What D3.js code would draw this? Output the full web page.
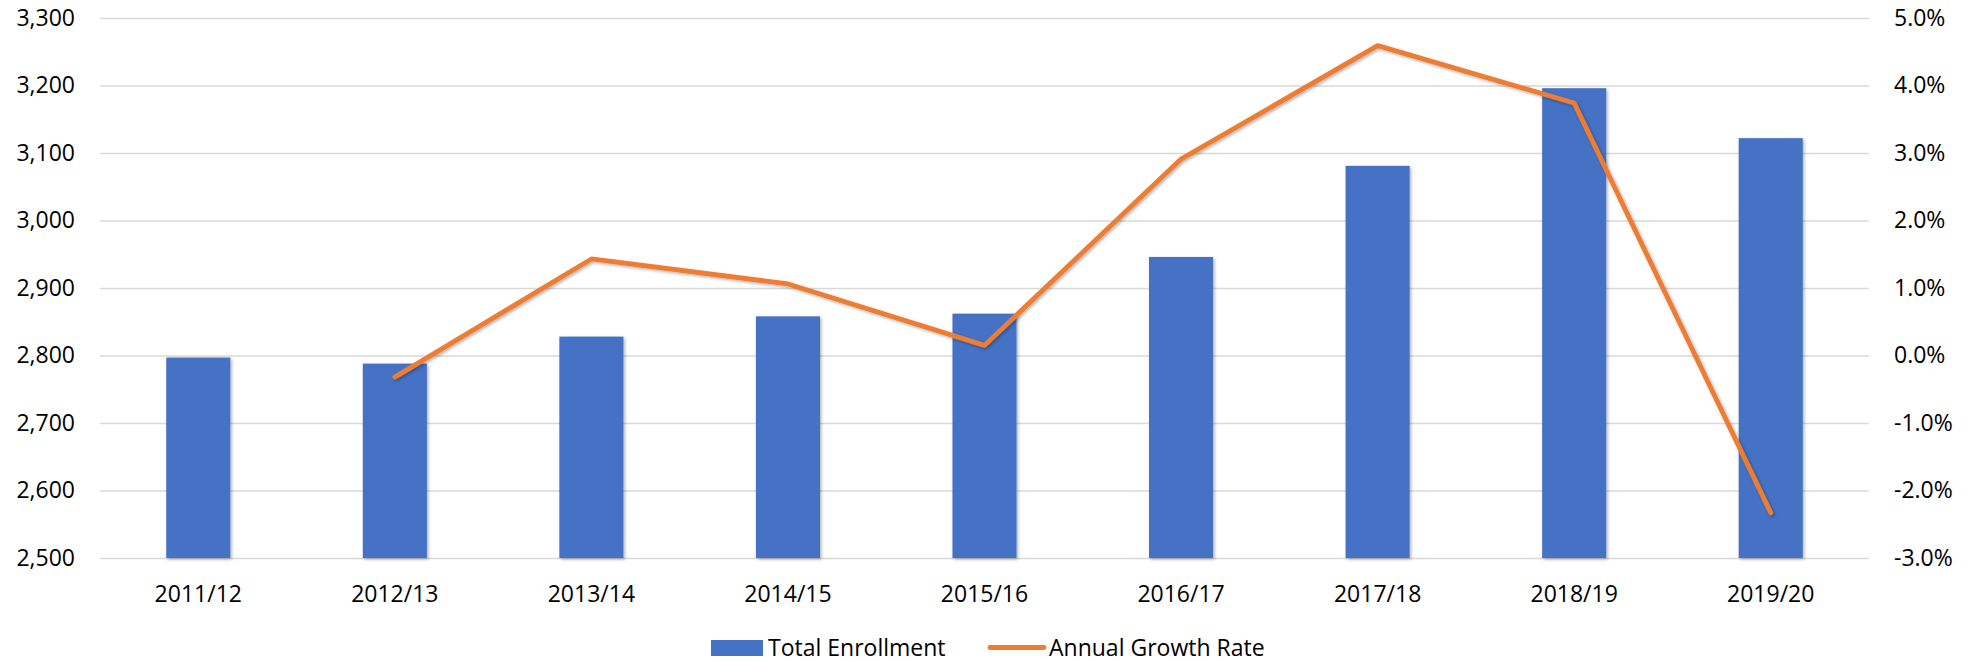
<!DOCTYPE html>
<html>
<head>
<meta charset="utf-8">
<script src="https://cdn.jsdelivr.net/npm/d3@7"></script>
<style>
  html, body { margin: 0; padding: 0; background: #fff; }
  svg { display: block; }
  text { font-family: "Open Sans", "Noto Sans", sans-serif; font-size: 23px; fill: #000; }
</style>
</head>
<body>
<svg id="chart" width="1978" height="662"></svg>
<script>
const categories = ["2011/12","2012/13","2013/14","2014/15","2015/16","2016/17","2017/18","2018/19","2019/20"];
const enrollment = [2797, 2788, 2828, 2858, 2862, 2946, 3081, 3196, 3122];
const growthRate = [null, -0.32, 1.43, 1.06, 0.15, 2.91, 4.59, 3.74, -2.33];
const leftTicks = [2500, 2600, 2700, 2800, 2900, 3000, 3100, 3200, 3300];
const rightTicks = [-3, -2, -1, 0, 1, 2, 3, 4, 5];
const seriesNames = ["Total Enrollment", "Annual Growth Rate"];

(function () {
const svg = d3.select("#chart");
const plotLeft = 100, plotRight = 1869, plotTop = 18, plotBottom = 558;
const barColor = "#4472C4", lineColor = "#ED7D31", gridColor = "#D9D9D9";

const defs = svg.append("defs");
const f = defs.append("filter").attr("id", "shadow").attr("x", "-20%").attr("y", "-20%").attr("width", "140%").attr("height", "140%");
f.append("feDropShadow").attr("dx", 1.5).attr("dy", 1.5).attr("stdDeviation", 1.5)
  .attr("flood-color", "#000").attr("flood-opacity", 0.3);

const x = d3.scaleBand().domain(categories).range([plotLeft, plotRight]).paddingInner(0.674).paddingOuter(0.337);
const yL = d3.scaleLinear().domain([2500, 3300]).range([plotBottom, plotTop]);
const yR = d3.scaleLinear().domain([-3, 5]).range([plotBottom, plotTop]);

// Left axis with gridlines
const gL = svg.append("g").attr("transform", `translate(${plotLeft},0)`)
  .call(d3.axisLeft(yL).tickValues(leftTicks).tickFormat(d3.format(",")).tickSize(-(plotRight - plotLeft)).tickPadding(25));
gL.select(".domain").remove();
gL.selectAll(".tick line").attr("stroke", gridColor).attr("stroke-width", 1.5);
gL.selectAll(".tick text").style("font-size", "23px").attr("fill", "#000");

// Right axis
const gR = svg.append("g").attr("transform", `translate(${plotRight},0)`)
  .call(d3.axisRight(yR).tickValues(rightTicks).tickFormat(d => d.toFixed(1) + "%").tickSize(0).tickPadding(25));
gR.select(".domain").remove();
gR.selectAll(".tick text").style("font-size", "23px").attr("fill", "#000");

// Bottom axis
const gX = svg.append("g").attr("transform", `translate(0,${plotBottom})`)
  .call(d3.axisBottom(x).tickSize(0).tickPadding(28));
gX.select(".domain").remove();
gX.selectAll(".tick text").style("font-size", "23px").attr("fill", "#000");

// Bars
svg.append("g").selectAll("rect").data(categories).join("rect")
  .attr("x", d => x(d))
  .attr("width", x.bandwidth())
  .attr("y", (d, i) => yL(enrollment[i]))
  .attr("height", (d, i) => yL(2500) - yL(enrollment[i]))
  .attr("fill", barColor)
  .attr("filter", "url(#shadow)");

// Line
const lineData = categories.map((c, i) => ({ c, v: growthRate[i] })).filter(d => d.v !== null);
svg.append("path").datum(lineData)
  .attr("d", d3.line().x(d => x(d.c) + x.bandwidth() / 2).y(d => yR(d.v)))
  .attr("fill", "none").attr("stroke", lineColor).attr("stroke-width", 4.8)
  .attr("stroke-linejoin", "round").attr("stroke-linecap", "round")
  .attr("filter", "url(#shadow)");

// Legend
const lg = svg.append("g");
lg.append("rect").attr("x", 711).attr("y", 640).attr("width", 52).attr("height", 16).attr("fill", barColor);
lg.append("text").attr("x", 768).attr("y", 655.5).text(seriesNames[0]);
lg.append("line").attr("x1", 990).attr("x2", 1044).attr("y1", 647.5).attr("y2", 647.5)
  .attr("stroke", lineColor).attr("stroke-width", 4.8).attr("stroke-linecap", "round");
lg.append("text").attr("x", 1049).attr("y", 655.5).text(seriesNames[1]);
})();
</script>
</body>
</html>
